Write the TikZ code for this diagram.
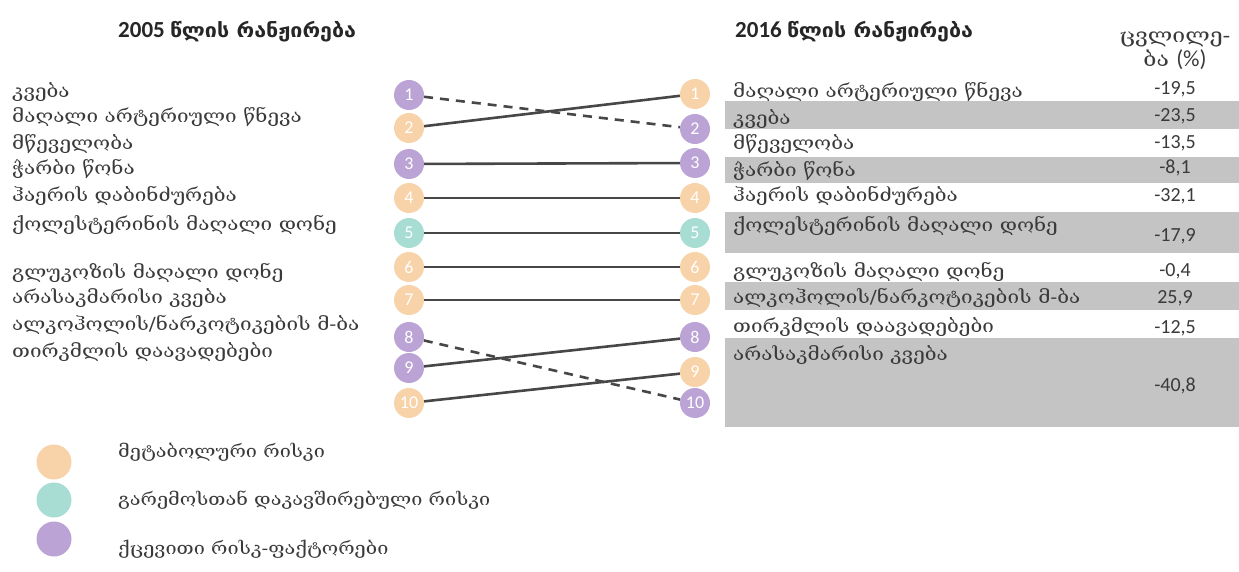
\documentclass[tikz,border=0pt]{standalone}
\usepackage{fontspec}
\setmainfont{Carlito}
\newfontfamily\geo{DejaVu Serif}[FakeStretch=1.15]
\newfontfamily\geobf{DejaVu Sans}[BoldFont={DejaVu Sans Bold}, FakeStretch=1.1]
\usetikzlibrary{positioning}

\definecolor{peach}{HTML}{F8D3A9}
\definecolor{lilac}{HTML}{BBA3D5}
\definecolor{mint}{HTML}{A8DDD3}
\definecolor{band}{HTML}{C4C4C4}
\definecolor{wire}{HTML}{474747}
\definecolor{ink}{HTML}{3A3A3A}

\tikzset{
  rank/.style = {circle, minimum size=30pt, inner sep=0pt, text=white,
                 font=\fontsize{18}{18}\selectfont},
  key/.style  = {circle, minimum size=35pt, inner sep=0pt},
  risk/.style = {anchor=base west, inner sep=0pt, text=ink,
                 font=\geo\fontsize{18}{18}\selectfont},
  pct/.style  = {anchor=base, inner sep=0pt, text=ink,
                 font=\fontsize{20}{20}\selectfont},
  head/.style = {anchor=base west, inner sep=0pt, text=black!85,
                 font=\fontsize{23}{23}\selectfont\bfseries},
  link/.style = {wire, line width=2.6pt},
  swap/.style = {link, dash pattern=on 9pt off 7pt},
}

\begin{document}
\begin{tikzpicture}[x=1pt, y=-1pt]
\useasboundingbox (0,0) rectangle (1239,572);

\fill[band] (725,101) rectangle (1239,129);
\fill[band] (725,157) rectangle (1239,183);
\fill[band] (725,212) rectangle (1239,253);
\fill[band] (725,282) rectangle (1239,310);
\fill[band] (725,338) rectangle (1239,427);

\node[head] (h05) at (118,38) {2005 {\geobf\fontsize{19.5}{19.5}\selectfont წლის რანჟირება}};
\node[head] (h16) at (735,38) {2016 {\geobf\fontsize{19.5}{19.5}\selectfont წლის რანჟირება}};
\node[risk, anchor=base, font=\geo\fontsize{20}{20}\selectfont] (hc1) at (1175,43) {ცვლილე-};
\node[risk, anchor=base, font=\geo\fontsize{20}{20}\selectfont] (hc2) at (1175,67) {ბა {\normalfont\fontsize{23}{23}\selectfont(\%)}};

\foreach \i/\y/\c in {1/95/lilac, 2/128/peach, 3/164/lilac, 4/198/peach,
    5/233/mint, 6/267/peach, 7/300/peach, 8/337/lilac, 9/368/lilac, 10/403/peach}
  \node[rank, fill=\c] (L\i) at (409,\y) {\i};
\foreach \i/\y/\c in {1/94/peach, 2/129/lilac, 3/163/lilac, 4/198/peach,
    5/233/mint, 6/267/peach, 7/300/peach, 8/337/lilac, 9/372/peach, 10/403/lilac}
  \node[rank, fill=\c] (R\i) at (695,\y) {\i};

\draw[swap] (L1) -- (R2);
\draw[link] (L2) -- (R1);
\foreach \i in {3,...,7}
  \draw[link] (L\i) -- (R\i);
\draw[swap] (L8) -- (R10);
\draw[link] (L9) -- (R8);
\draw[link] (L10) -- (R9);

\node[risk] (a1) at (12,98) {კვება};
\node[risk] (a2) at (12,123) {მაღალი არტერიული წნევა};
\node[risk] (a3) at (12,150) {მწეველობა};
\node[risk] (a4) at (12,175) {ჭარბი წონა};
\node[risk] (a5) at (12,202) {ჰაერის დაბინძურება};
\node[risk] (a6) at (12,230) {ქოლესტერინის მაღალი დონე};
\node[risk] (a7) at (12,278) {გლუკოზის მაღალი დონე};
\node[risk] (a8) at (12,303) {არასაკმარისი კვება};
\node[risk] (a9) at (12,330) {ალკოჰოლის/ნარკოტიკების მ-ბა};
\node[risk] (a10) at (12,357) {თირკმლის დაავადებები};

\node[risk] (b1) at (733,98) {მაღალი არტერიული წნევა};
\node[risk] (b2) at (733,125) {კვება};
\node[risk] (b3) at (733,150) {მწეველობა};
\node[risk] (b4) at (733,177) {ჭარბი წონა};
\node[risk] (b5) at (733,202) {ჰაერის დაბინძურება};
\node[risk] (b6) at (733,232) {ქოლესტერინის მაღალი დონე};
\node[risk] (b7) at (733,277) {გლუკოზის მაღალი დონე};
\node[risk] (b8) at (733,303) {ალკოჰოლის/ნარკოტიკების მ-ბა};
\node[risk] (b9) at (733,332) {თირკმლის დაავადებები};
\node[risk] (b10) at (733,360) {არასაკმარისი კვება};

\node[pct] (v1) at (1175,95) {-19,5};
\node[pct] (v2) at (1175,122) {-23,5};
\node[pct] (v3) at (1175,149) {-13,5};
\node[pct] (v4) at (1175,174) {-8,1};
\node[pct] (v5) at (1175,201) {-32,1};
\node[pct] (v6) at (1175,241) {-17,9};
\node[pct] (v7) at (1175,276) {-0,4};
\node[pct] (v8) at (1175,303) {25,9};
\node[pct] (v9) at (1175,333) {-12,5};
\node[pct] (v10) at (1175,391) {-40,8};

\node[key, fill=peach] (k1) at (54,462) {};
\node[key, fill=mint] (k2) at (54,500) {};
\node[key, fill=lilac] (k3) at (54,539) {};
\node[risk, font=\geo\fontsize{17.3}{17.3}\selectfont] (t1) at (118,457) {მეტაბოლური რისკი};
\node[risk, font=\geo\fontsize{17.3}{17.3}\selectfont] (t2) at (118,505) {გარემოსთან დაკავშირებული რისკი};
\node[risk, font=\geo\fontsize{17.3}{17.3}\selectfont] (t3) at (118,554) {ქცევითი რისკ-ფაქტორები};
\end{tikzpicture}
\end{document}
